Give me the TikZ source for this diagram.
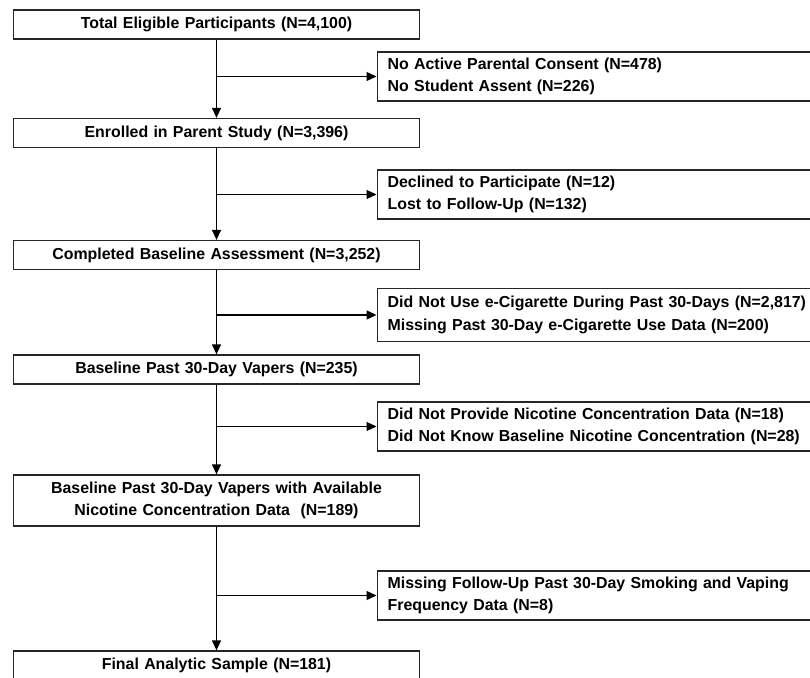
\documentclass[tikz,border=0pt]{standalone}
\usepackage{fontspec}
\setmainfont{Liberation Sans}
\usetikzlibrary{arrows.meta}
\begin{document}
\begin{tikzpicture}[x=1pt,y=-1pt,
  every node/.style={font=\bfseries\fontsize{15.9}{22.6}\selectfont, text=black},
  mainbox/.style={draw=black!85, line width=1.3pt, minimum width=406pt, text width=390pt, align=center, inner sep=0pt},
  sidebox/.style={draw=black!85, line width=1.3pt, anchor=west, minimum width=460pt, text width=439pt, align=left, inner xsep=10.5pt, inner ysep=0pt},
  arr/.style={draw=black, line width=1.3pt, -{Triangle[length=10pt,width=9pt]}}]
\useasboundingbox (0,0) rectangle (810,677);
\clip (0,0) rectangle (810,677);
\fill[white] (0,0) rectangle (810,677);
\node[mainbox, minimum height=29pt] (b1) at (216.5,24.5) {Total Eligible Participants (N=4,100)};
\node[sidebox, minimum height=49pt] (r1) at (376.5,76.5) {No Active Parental Consent (N=478)\\No Student Assent (N=226)};
\node[mainbox, minimum height=29pt] (b2) at (216.5,133) {Enrolled in Parent Study (N=3,396)};
\node[sidebox, minimum height=49pt] (r2) at (376.5,194.5) {Declined to Participate (N=12)\\Lost to Follow-Up (N=132)};
\node[mainbox, minimum height=29pt] (b3) at (216.5,255) {Completed Baseline Assessment (N=3,252)};
\node[sidebox, minimum height=53pt] (r3) at (376.5,315) {Did Not Use e-Cigarette During Past 30-Days (N=2,817)\\Missing Past 30-Day e-Cigarette Use Data (N=200)};
\node[mainbox, minimum height=29pt] (b4) at (216.5,369.5) {Baseline Past 30-Day Vapers (N=235)};
\node[sidebox, minimum height=49pt] (r4) at (376.5,426.5) {Did Not Provide Nicotine Concentration Data (N=18)\\Did Not Know Baseline Nicotine Concentration (N=28)};
\node[mainbox, minimum height=51pt] (b5) at (216.5,500.5) {Baseline Past 30-Day Vapers with Available\\Nicotine Concentration Data\ \ (N=189)};
\node[sidebox, minimum height=49pt] (r5) at (376.5,595.5) {Missing Follow-Up Past 30-Day Smoking and Vaping\\Frequency Data (N=8)};
\node[mainbox, minimum height=29pt] (b6) at (216.5,665.5) {Final Analytic Sample (N=181)};
\draw[arr] (b1) -- (b2);
\draw[arr] (b2) -- (b3);
\draw[arr] (b3) -- (b4);
\draw[arr] (b4) -- (b5);
\draw[arr] (b5) -- (b6);
\draw[arr] (b1.south |- r1.west) -- (r1.west);
\draw[arr] (b2.south |- r2.west) -- (r2.west);
\draw[arr] (b3.south |- r3.west) -- (r3.west);
\draw[arr] (b4.south |- r4.west) -- (r4.west);
\draw[arr] (b5.south |- r5.west) -- (r5.west);
\end{tikzpicture}
\end{document}
